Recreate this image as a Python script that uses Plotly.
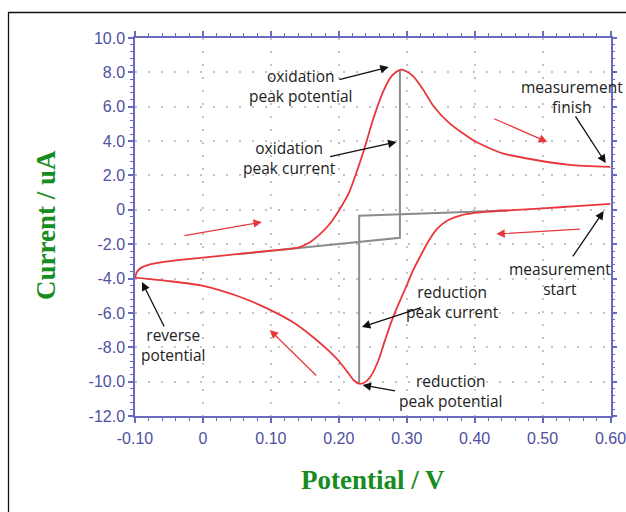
import plotly.graph_objects as go

# Cyclic voltammogram: scan starts at 0.60 V, reduces down to the reverse
# potential (-0.10 V), then oxidises back up to 0.60 V.
reduction_scan_v = [0.60, 0.55, 0.50, 0.45, 0.42, 0.40, 0.38, 0.36, 0.345, 0.334,
                    0.32, 0.309, 0.30, 0.29, 0.278, 0.268, 0.258, 0.246, 0.238,
                    0.23, 0.222, 0.212, 0.20, 0.185, 0.165, 0.135, 0.095, 0.05,
                    0.0, -0.05, -0.10]
reduction_scan_i = [0.35, 0.22, 0.08, -0.03, -0.10, -0.18, -0.32, -0.62, -1.1, -1.7,
                    -2.7, -3.55, -4.4, -5.3, -6.45, -7.6, -8.8, -9.75, -10.05,
                    -10.12, -9.92, -9.4, -8.8, -8.2, -7.5, -6.6, -5.75, -5.0,
                    -4.42, -4.15, -3.95]

oxidation_scan_v = [-0.10, -0.097, -0.09, -0.08, -0.06, -0.03, 0.0, 0.05, 0.10, 0.14,
                    0.155, 0.17, 0.185, 0.20, 0.215, 0.228, 0.238, 0.25, 0.265,
                    0.278, 0.29, 0.30, 0.31, 0.325, 0.34, 0.364, 0.40, 0.44,
                    0.49, 0.54, 0.60]
oxidation_scan_i = [-3.95, -3.6, -3.35, -3.2, -3.05, -2.9, -2.78, -2.58, -2.38, -2.2,
                    -1.95, -1.5, -0.9, -0.05, 1.0, 2.4, 3.6, 5.2, 6.85,
                    7.8, 8.15, 8.05, 7.75, 6.95, 6.0, 5.0, 4.0, 3.3,
                    2.9, 2.62, 2.5]

# Baselines and peak-current construction lines
ox_peak_line_v = [0.05, 0.29, 0.29]
ox_peak_line_i = [-2.59, -1.63, 8.15]
red_peak_line_v = [0.45, 0.23, 0.23]
red_peak_line_i = [-0.04, -0.35, -10.12]

x_ticks = [-0.1, 0.0, 0.1, 0.2, 0.3, 0.4, 0.5, 0.6]
x_tick_text = ["-0.10", "0", "0.10", "0.20", "0.30", "0.40", "0.50", "0.60"]
y_ticks = [10, 8, 6, 4, 2, 0, -2, -4, -6, -8, -10, -12]
y_tick_text = ["10.0", "8.0", "6.0", "4.0", "2.0", "0", "-2.0", "-4.0",
               "-6.0", "-8.0", "-10.0", "-12.0"]

# Callout labels: (text, x, y) and their arrows (tail x, tail y, head x, head y)
labels = [
    ("oxidation<br>peak potential", 0.144, 7.21),
    ("oxidation<br>peak current", 0.128, 3.04),
    ("measurement<br>finish", 0.543, 6.57),
    ("measurement<br>start", 0.525, -4.03),
    ("reverse<br>potential", -0.044, -7.87),
    ("reduction<br>peak current", 0.368, -5.39),
    ("reduction<br>peak potential", 0.365, -10.52),
]
label_arrows = [
    (0.1985, 7.56, 0.2735, 8.31),
    (0.185, 3.07, 0.285, 3.95),
    (0.547, 5.52, 0.593, 2.72),
    (0.543, -2.80, 0.590, -0.07),
    (-0.056, -6.88, -0.0897, -4.2),
    (0.3235, -5.66, 0.234, -6.82),
    (0.285, -10.55, 0.235, -10.2),
]
scan_direction_arrows = [
    (-0.0294, -1.52, 0.0868, -0.71),
    (0.4265, 5.34, 0.507, 3.95),
    (0.557, -1.12, 0.432, -1.41),
    (0.169, -9.73, 0.0985, -6.99),
]

RED = "#e8363c"
GREY = "#8c8c8c"
AXIS = "#6a6abf"
TICKFONT = "#5050a0"
GREEN = "#178c1f"

# Page geometry (pixels): plotting region spans 135..610 horizontally
W, H = 626, 512
L, T, B = 135, 38, 96
PLOT_W = 475.5
PAPER_W = W - L

def paper_x(px):
    return (px - L) / PAPER_W

def paper_y(py):
    return (H - B - py) / (H - T - B)

fig = go.Figure()
fig.add_trace(go.Scatter(x=ox_peak_line_v, y=ox_peak_line_i, mode="lines",
                         line=dict(color=GREY, width=2)))
fig.add_trace(go.Scatter(x=red_peak_line_v, y=red_peak_line_i, mode="lines",
                         line=dict(color=GREY, width=2)))
fig.add_trace(go.Scatter(x=reduction_scan_v, y=reduction_scan_i, mode="lines",
                         line=dict(color=RED, width=1.8, shape="spline", smoothing=0.6)))
fig.add_trace(go.Scatter(x=oxidation_scan_v, y=oxidation_scan_i, mode="lines",
                         line=dict(color=RED, width=1.8, shape="spline", smoothing=0.6)))

annotations = []
for text, x, y in labels:
    annotations.append(dict(x=x, y=y, xref="x", yref="y", text=text, showarrow=False,
                            xanchor="center", yanchor="middle",
                            font=dict(family="Open Sans", size=15.5, color="#222222")))
for tx, ty, hx, hy in label_arrows:
    annotations.append(dict(x=hx, y=hy, ax=tx, ay=ty, xref="x", yref="y",
                            axref="x", ayref="y", text="", showarrow=True,
                            arrowhead=2, arrowsize=1.3, arrowwidth=1.3,
                            arrowcolor="#111111"))
for tx, ty, hx, hy in scan_direction_arrows:
    annotations.append(dict(x=hx, y=hy, ax=tx, ay=ty, xref="x", yref="y",
                            axref="x", ayref="y", text="", showarrow=True,
                            arrowhead=2, arrowsize=1.4, arrowwidth=1.2,
                            arrowcolor=RED))

# Axis titles
annotations.append(dict(x=paper_x(372.5), y=paper_y(480), xref="paper", yref="paper",
                        text="<b>Potential / V</b>", showarrow=False,
                        xanchor="center", yanchor="middle",
                        font=dict(family="Liberation Serif", size=27, color=GREEN)))
annotations.append(dict(x=paper_x(46), y=paper_y(225), xref="paper", yref="paper",
                        text="<b>Current / uA</b>", showarrow=False, textangle=-90,
                        xanchor="center", yanchor="middle",
                        font=dict(family="Liberation Serif", size=27, color=GREEN)))

axis_common = dict(
    ticks="outside", ticklen=5, tickwidth=1.5, tickcolor=AXIS,
    showline=True, linecolor=AXIS, linewidth=1.5, mirror="allticks",
    showgrid=True, gridcolor="#c4c4c4", gridwidth=1.5, griddash="2px,11px",
    zeroline=False, automargin=False, ticklabeloverflow="allow",
    tickfont=dict(family="Liberation Sans", size=16, color=TICKFONT),
)

fig.update_layout(
    width=W, height=H,
    margin=dict(l=L, r=0, t=T, b=B, autoexpand=False),
    paper_bgcolor="white", plot_bgcolor="white",
    showlegend=False,
    annotations=annotations,
    xaxis=dict(range=[-0.1, 0.6], domain=[0, PLOT_W / PAPER_W],
               tickmode="array", tickvals=x_ticks,
               ticktext=x_tick_text, ticklabelstandoff=2,
               minor=dict(tickmode="linear", tick0=-0.1, dtick=0.02, ticks="outside",
                          ticklen=3, tickwidth=1, tickcolor=AXIS, showgrid=False),
               **axis_common),
    yaxis=dict(range=[-12, 10], tickmode="array", tickvals=y_ticks,
               ticktext=y_tick_text,
               minor=dict(tickmode="linear", tick0=-12, dtick=0.4, ticks="outside",
                          ticklen=3, tickwidth=1, tickcolor=AXIS, showgrid=False),
               **axis_common),
    shapes=[dict(type="rect", xref="paper", yref="paper",
                 x0=paper_x(8.5), x1=paper_x(640),
                 y0=paper_y(560), y1=paper_y(12.5),
                 line=dict(color="#111111", width=1.3), fillcolor="rgba(0,0,0,0)",
                 layer="below")],
)

fig.write_html("out.html")
